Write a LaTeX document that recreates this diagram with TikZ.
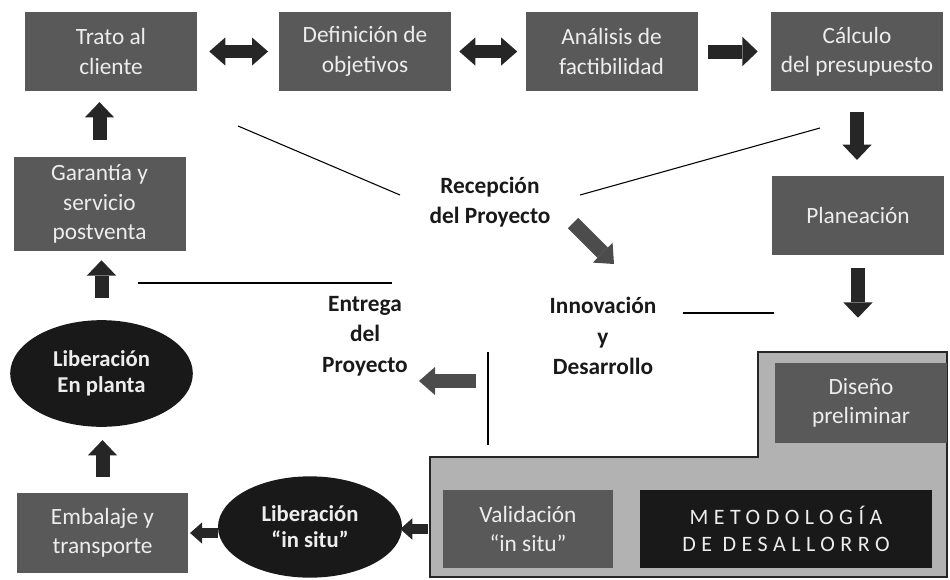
\documentclass[tikz,border=0pt]{standalone}
\usepackage{fontspec}
\setmainfont{Carlito}
\usetikzlibrary{shapes.geometric,arrows.meta}

\begin{document}
\begin{tikzpicture}[x=0.75pt,y=-0.75pt, line join=miter,
  caja/.style={fill=black!65, text=white!93!black, align=center, inner sep=0pt,
    minimum width=129pt, minimum height=59pt, font=\fontsize{17.5}{22}\selectfont},
  elipse/.style={ellipse, fill=black!90, text=white!93!black, align=center, inner sep=0pt,
    minimum width=137pt, minimum height=80pt, font=\bfseries\fontsize{17}{19.5}\selectfont},
  etiqueta/.style={align=center, inner sep=0pt, text=black!90, font=\bfseries\fontsize{17.5}{23}\selectfont},
  flecha/.style={draw=black!85, line width=10.5pt, -{Triangle[length=11.5pt,width=22pt,line width=0pt]}},
  flechad/.style={draw=black!85, line width=10pt,
    {Triangle[length=12pt,width=21pt,line width=0pt]}-{Triangle[length=12pt,width=21pt,line width=0pt]}},
  flechac/.style={draw=black!85, line width=7.5pt, -{Triangle[length=9pt,width=16pt,line width=0pt]}},
  flechag/.style={draw=black!70, line width=11pt, -{Triangle[length=12pt,width=21pt,line width=0pt]}},
  linea/.style={draw=black, line width=0.8pt}]
\useasboundingbox (0,0) rectangle (950,579);

% zona de la metodologia
\draw[fill=black!30, draw=black!85, line width=1.8pt] (430,457) -- (758,457) -- (758,352)
  -- (947,352) -- (947,577) -- (430,577) -- cycle;

% cajas
\node[caja] (trato) at (111,51.5) {Trato al\\cliente};
\node[caja] (defin) at (365,51.5) {Definición de\\objetivos};
\node[caja] (anal) at (611.5,51.5) {Análisis de\\factibilidad};
\node[caja] (calc) at (857,51.5) {Cálculo\\del presupuesto};
\node[caja, minimum height=70.5pt] (garant) at (99.5,204) {Garantía y\\servicio\\postventa};
\node[caja] (plan) at (858,215.5) {Planeación};
\node[caja, minimum height=60pt] (disen) at (861,403) {Diseño\\preliminar};
\node[caja, minimum width=127.5pt, minimum height=58.5pt] (valid) at (528,529) {Validación\\“in situ”};
\node[caja, fill=black!90, minimum width=219pt, minimum height=58.5pt,
  font=\fontsize{16.5}{20.25}\selectfont\addfontfeature{LetterSpace=25}] (metod) at (786,529) {METODOLOGÍA\\DE DESALLORRO};
\node[caja, minimum width=128pt, minimum height=60pt] (embal) at (102.5,533) {Embalaje y\\transporte};

% elipses
\node[elipse] (libp) at (101.5,373.5) {Liberación\\En planta};
\node[elipse, minimum width=138pt, minimum height=76pt] (libs) at (310,527) {Liberación\\“in situ”};

% etiquetas
\node[etiqueta] (recep) at (490,202) {Recepción\\del Proyecto};
\node[etiqueta] (entrega) at (365,336) {Entrega\\del\\Proyecto};
\node[etiqueta] (innov) at (603,336) {Innovación\\y\\Desarrollo};

% flechas
\draw[flechad, shorten <=9pt, shorten >=8pt] (trato) -- (defin);
\draw[flechad, shorten <=6pt, shorten >=6pt] (defin) -- (anal);
\draw[flecha, shorten <=7.5pt, shorten >=9.75pt] (anal) -- (calc);
\draw[flecha, shorten <=15.75pt, shorten >=12pt] (calc.south) -- (calc.south |- plan.north);
\draw[flecha, shorten <=9.75pt, shorten >=33.75pt] (plan.south) -- (plan.south |- disen.north);
\draw[flecha, shorten <=12.75pt, shorten >=8.25pt] (garant.north) -- (garant.north |- trato.south);
\draw[flecha, shorten <=16.5pt, shorten >=6.75pt] (libp.north) -- (libp.north |- garant.south);
\draw[flecha, shorten <=12pt, shorten >=9.75pt] (embal.north) -- (embal.north |- libp.south);
\draw[flechac, shorten >=1.5pt] (libs.west |- embal.east) -- (embal.east);
\draw[flechac, shorten <=11.25pt, shorten >=-1.5pt] (valid.west) -- (libs.east |- valid.west);

\coordinate (d1) at (573,223);
\coordinate (d2) at (614,264);
\draw[flechag] (d1) -- (d2);
\coordinate (e1) at (476,381);
\coordinate (e2) at (419,381);
\draw[flechag] (e1) -- (e2);

% lineas
\draw[linea] (238,126) -- (400,195);
\draw[linea] (820,128) -- (580,195);
\draw[linea] (138,283) -- (392,283);
\draw[linea] (683,313) -- (774,313);
\draw[linea] (488,352) -- (488,445);
\end{tikzpicture}
\end{document}
